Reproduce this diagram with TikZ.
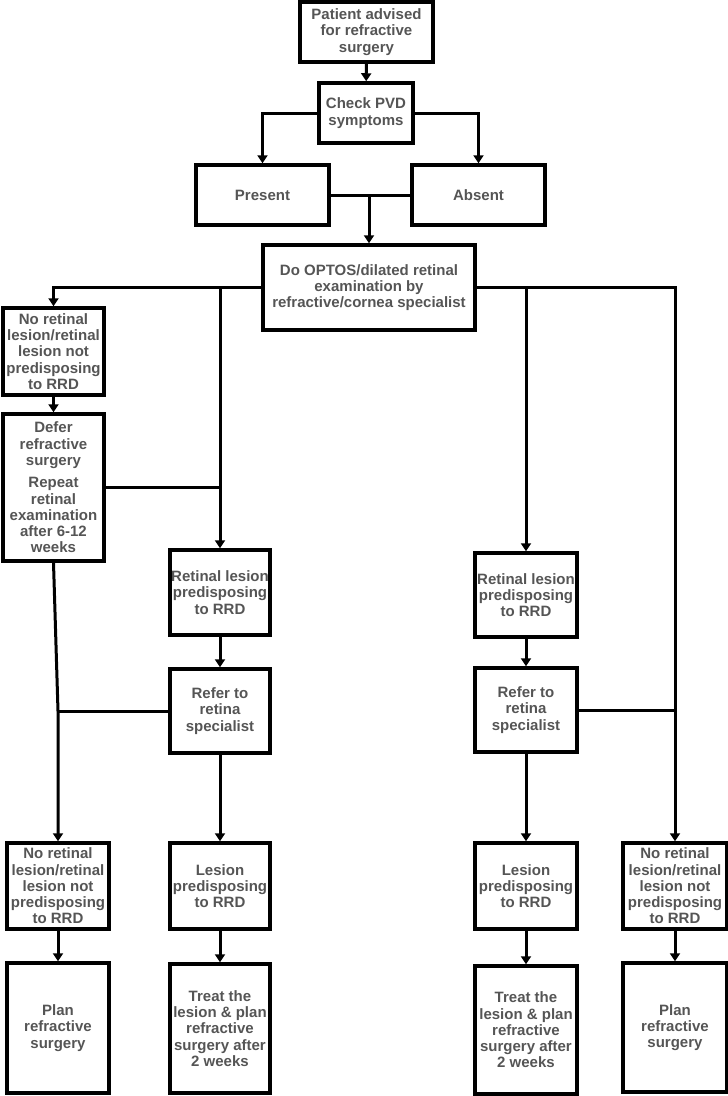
\documentclass[tikz,border=0pt]{standalone}
\usepackage{fontspec}
\setmainfont{Liberation Sans}
\usepackage{xcolor}
\definecolor{grisfonce}{HTML}{555555}
\usetikzlibrary{arrows.meta}

\begin{document}
\begin{tikzpicture}[x=1pt,y=-1pt,
  font=\fontsize{15}{16.3}\selectfont\bfseries,
  boite/.style={draw,line width=3.5pt,text=grisfonce,align=center,inner sep=0pt},
  fleche/.style={line width=3pt,-{Triangle[width=10pt,length=8pt]}},
  trait/.style={line width=3pt}]
\useasboundingbox (0,0) rectangle (728,1096);
% haut du schema
\node[boite,minimum width=133pt,minimum height=60pt] (patient) at (366.5,32) {Patient advised\\for refractive\\surgery};
\node[boite,minimum width=94pt,minimum height=60pt] (check) at (366,113) {Check PVD\\symptoms};
\node[boite,minimum width=133pt,minimum height=60pt] (present) at (262.5,195) {Present};
\node[boite,minimum width=133pt,minimum height=60pt] (absent) at (478.5,195) {Absent};
\node[boite,minimum width=212pt,minimum height=85pt] (exam) at (369,287.5) {Do OPTOS/dilated retinal\\examination by\\refractive/cornea specialist};
% branche de gauche
\node[boite,minimum width=101pt,minimum height=87pt] (noles1) at (53.5,351.5) {No retinal\\lesion/retinal\\lesion not\\predisposing\\to RRD};
\node[boite,minimum width=101pt,minimum height=147pt] (defer) at (53.5,487.5) {Defer\\refractive\\surgery\\[6pt]Repeat\\retinal\\examination\\after 6-12\\weeks};
\node[boite,minimum width=100pt,minimum height=85pt] (lesA) at (220,592.5) {Retinal lesion\\predisposing\\to RRD};
\node[boite,minimum width=100pt,minimum height=84pt] (referA) at (220,711) {Refer to\\retina\\specialist};
\node[boite,minimum width=102pt,minimum height=86pt] (noles2) at (58,886) {No retinal\\lesion/retinal\\lesion not\\predisposing\\to RRD};
\node[boite,minimum width=100pt,minimum height=86pt] (predA) at (220,886) {Lesion\\predisposing\\to RRD};
\node[boite,minimum width=102pt,minimum height=130pt] (planA) at (58,1028) {Plan\\refractive\\surgery};
\node[boite,minimum width=100pt,minimum height=129pt] (treatA) at (220,1028.5) {Treat the\\lesion \& plan\\refractive\\surgery after\\2 weeks};
% branche de droite
\node[boite,minimum width=102pt,minimum height=84pt] (lesB) at (526,595) {Retinal lesion\\predisposing\\to RRD};
\node[boite,minimum width=102pt,minimum height=84pt] (referB) at (526,710) {Refer to\\retina\\specialist};
\node[boite,minimum width=102pt,minimum height=86pt] (predB) at (526,886) {Lesion\\predisposing\\to RRD};
\node[boite,minimum width=104pt,minimum height=86pt] (noles3) at (675,886) {No retinal\\lesion/retinal\\lesion not\\predisposing\\to RRD};
\node[boite,minimum width=102pt,minimum height=128pt] (treatB) at (526,1030) {Treat the\\lesion \& plan\\refractive\\surgery after\\2 weeks};
\node[boite,minimum width=104pt,minimum height=129pt] (planB) at (675,1027.5) {Plan\\refractive\\surgery};
% liaisons
\draw[fleche] (patient) -- (check);
\draw[fleche] (check.west) -| (present.north);
\draw[fleche] (check.east) -| (absent.north);
\draw[trait] (present.east) -- (absent.west);
\draw[fleche] (exam.north |- present.east) -- (exam.north);
\draw[fleche] (exam.west) -| (noles1.north);
\draw[fleche] (exam.west) -| (lesA.north);
\draw[fleche] (exam.east) -| (noles3.north);
\draw[fleche] (exam.east) -| (lesB.north);
\draw[fleche] (noles1) -- (defer);
\draw[trait] (defer.east) -- (defer.east -| lesA.north);
\draw[fleche] (defer.south) -- (noles2.north |- referA.west) -- (noles2.north);
\draw[trait] (referA.west) -- (noles2.north |- referA.west);
\draw[fleche] (lesA) -- (referA);
\draw[fleche] (referA) -- (predA);
\draw[fleche] (predA) -- (treatA);
\draw[fleche] (noles2) -- (planA);
\draw[fleche] (lesB) -- (referB);
\draw[fleche] (referB) -- (predB);
\draw[fleche] (predB) -- (treatB);
\draw[trait] (referB.east) -- (referB.east -| noles3.north);
\draw[fleche] (noles3) -- (planB);
\end{tikzpicture}
\end{document}
